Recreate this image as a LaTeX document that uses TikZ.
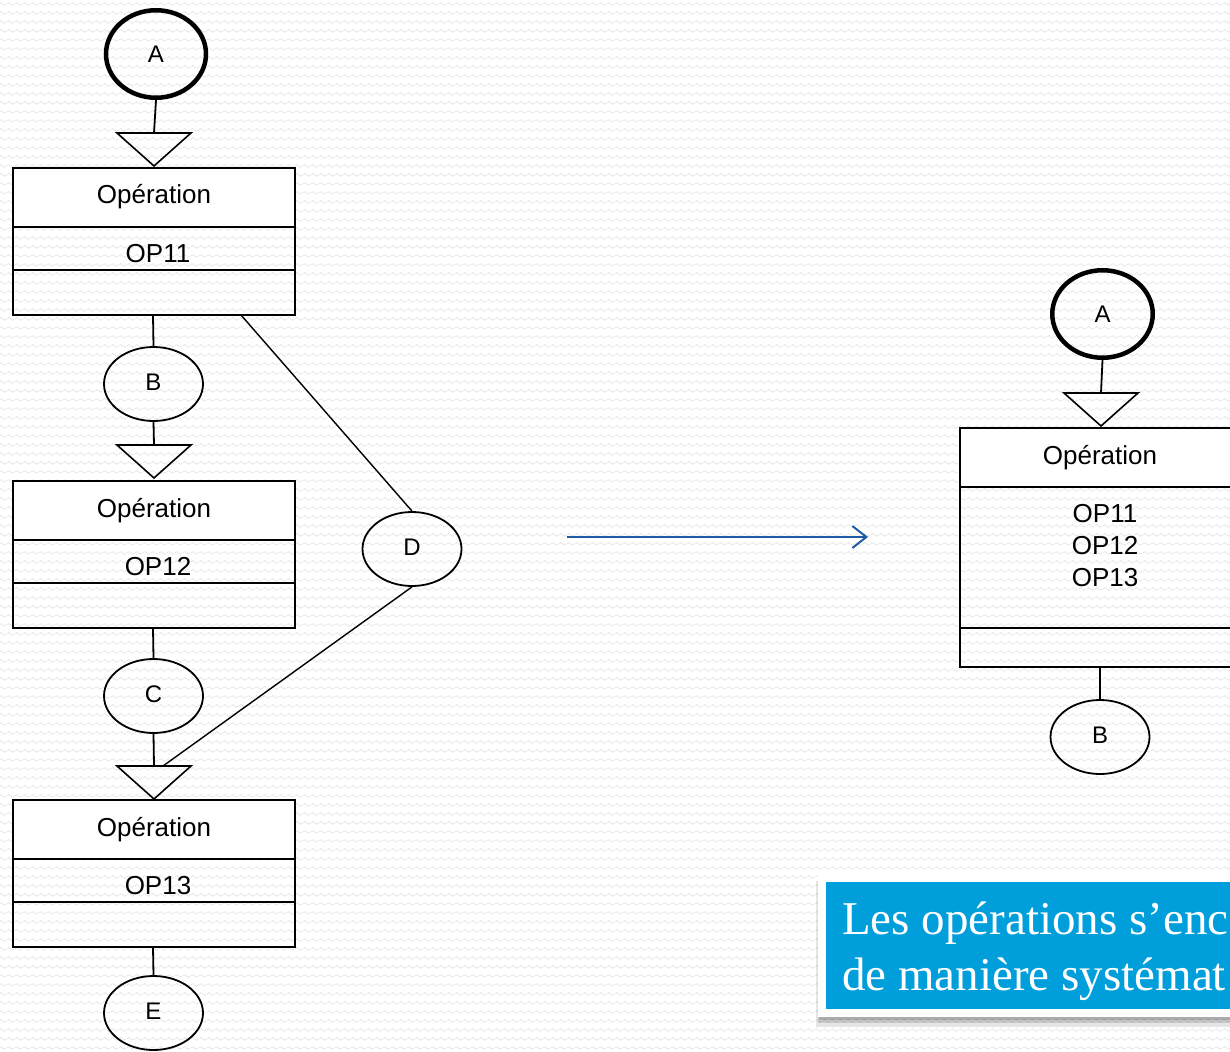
\documentclass[tikz,border=0pt]{standalone}
\usepackage{fontspec}
\setmainfont{Liberation Sans}
\newfontfamily\capfont{Liberation Serif}
\usetikzlibrary{shapes.geometric,arrows.meta,patterns}
\definecolor{wavegray}{RGB}{226,226,226}
\definecolor{capblue}{RGB}{0,158,218}
\definecolor{arrblue}{RGB}{30,90,165}
\pgfdeclarepatternformonly{bgwave}{\pgfpointorigin}{\pgfqpoint{8pt}{9pt}}{\pgfqpoint{8pt}{9pt}}{%
  \pgfsetlinewidth{0.7pt}%
  \pgfpathmoveto{\pgfqpoint{0pt}{4.5pt}}%
  \pgfpathcurveto{\pgfqpoint{1.3pt}{6.5pt}}{\pgfqpoint{2.7pt}{6.5pt}}{\pgfqpoint{4pt}{4.5pt}}%
  \pgfpathcurveto{\pgfqpoint{5.3pt}{2.5pt}}{\pgfqpoint{6.7pt}{2.5pt}}{\pgfqpoint{8pt}{4.5pt}}%
  \pgfusepath{stroke}}
\newcommand{\upl}[1]{\raisebox{3.5pt}{#1}}
\tikzset{
  lbl/.style={font=\fontsize{26}{32}\selectfont, inner sep=0pt},
  circ/.style={ellipse, draw, line width=1.8pt, minimum width=99pt, minimum height=74pt, inner sep=0pt, font=\fontsize{24}{28}\selectfont},
  startcirc/.style={circ, line width=4.5pt, minimum width=100pt, minimum height=87.5pt},
  conn/.style={line width=1.8pt},
  diag/.style={line width=1.4pt},
  tri/.style={line width=1.6pt},
  boxline/.style={line width=1.8pt},
  captext/.style={anchor=base west, inner sep=0pt, text=white, font=\capfont\fontsize{47}{56}\selectfont},
  opbox/.pic={
    \fill[white] (-141,0) rectangle (141,-59);
    \draw[boxline] (-141,0) rectangle (141,-147);
    \draw[boxline] (-141,-59) -- (141,-59);
    \draw[boxline] (-141,-102) -- (141,-102);
    \node[lbl, anchor=base] (-head) at (0,-36) {Opération};
    \node[lbl, anchor=base] (-op) at (4,-94) {#1};
    \coordinate (-top) at (0,0);
    \coordinate (-bot) at (-1,-147);
  },
  trimark/.pic={
    \draw[tri] (-37,0) -- (37,0) -- (0,-33) -- cycle;
    \coordinate (-top) at (0,0);
  }
}
\begin{document}
\begin{tikzpicture}[x=1pt,y=1pt]
\useasboundingbox (0,0) rectangle (1230,-1051);
\clip (0,0) rectangle (1230,-1051);
\fill[white] (0,0) rectangle (1230,-1051);
\fill[pattern=bgwave, pattern color=wavegray] (0,0) rectangle (1230,-1051);

% ---------- left column ----------
\node[startcirc] (A1) at (156,-54) {A};
\pic (t1) at (154,-133) {trimark};
\pic (b1) at (154,-168) {opbox={OP11}};
\node[circ] (B1) at (153.5,-384) {\upl{B}};
\pic (t2) at (154,-445) {trimark};
\pic (b2) at (154,-481) {opbox={OP12}};
\node[circ] (C1) at (153.5,-696) {\upl{C}};
\pic (t3) at (154,-766) {trimark};
\pic (b3) at (154,-800) {opbox={OP13}};
\node[circ] (E1) at (153.5,-1013) {\upl{E}};
\node[circ] (D1) at (412,-549) {\upl{D}};

\draw[conn] (A1.south) -- (t1-top);
\draw[conn] (b1-bot) -- (B1.north);
\draw[conn] (B1.south) -- (t2-top);
\draw[conn] (b2-bot) -- (C1.north);
\draw[conn] (C1.south) -- (t3-top);
\draw[conn] (b3-bot) -- (E1.north);

\coordinate (d1) at (241,-315);
\coordinate (d2) at (163,-766);
\draw[diag] (d1) -- (D1.north);
\draw[diag] (D1.south) -- (d2);

% ---------- arrow ----------
\coordinate (arrS) at (567,-537);
\coordinate (arrE) at (868,-537);
\draw[arrblue, line width=2pt, -{Straight Barb[length=14pt,width=22pt,line width=2pt]}] (arrS) -- (arrE);

% ---------- right column ----------
\node[startcirc, minimum width=100.5pt] (A2) at (1102.5,-314) {A};
\pic (t4) at (1101,-393) {trimark};
\fill[white] (960,-428) rectangle (1240,-487);
\draw[boxline] (960,-428) rectangle (1240,-667);
\draw[boxline] (960,-487) -- (1240,-487);
\draw[boxline] (960,-628) -- (1240,-628);
\node[lbl, anchor=base] (h4) at (1100,-464) {Opération};
\node[lbl, anchor=base] (o41) at (1105,-522) {OP11};
\node[lbl, anchor=base] (o42) at (1105,-554) {OP12};
\node[lbl, anchor=base] (o43) at (1105,-586) {OP13};
\coordinate (b4bot) at (1100,-667);
\node[circ] (B2) at (1100,-737) {\upl{B}};
\draw[conn] (A2.south) -- (t4-top);
\draw[conn] (b4bot) -- (B2.north);

% ---------- caption ----------
\fill[black, opacity=0.10] (816,-881) rectangle (1240,-1027);
\fill[black, opacity=0.12] (818,-879) rectangle (1240,-1023);
\fill[black, opacity=0.15] (819,-877) rectangle (1240,-1020);
\fill[white] (818,-875) rectangle (1240,-1017);
\fill[capblue] (826,-882) rectangle (1240,-1009);
\node[captext] (cap1) at (842,-934) {Les opérations s’enc};
\node[captext] (cap2) at (842,-990) {de manière systémat};
\end{tikzpicture}
\end{document}
